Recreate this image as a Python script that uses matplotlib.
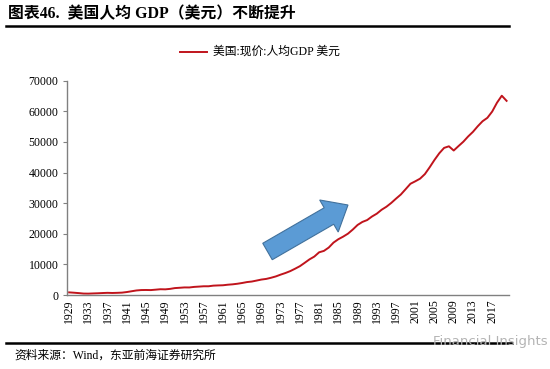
import matplotlib.pyplot as plt
from matplotlib.patches import Polygon
from matplotlib.lines import Line2D
import numpy as np

plt.rcParams['font.family'] = ['Liberation Serif', 'Noto Sans CJK SC', 'DejaVu Sans']

years = list(range(1929, 2021))
gdp_per_capita = [
    857, 747, 620, 469, 447, 512, 566, 645, 707, 660,
    708, 773, 965, 1225, 1483, 1614, 1638, 1606, 1740, 1884,
    1847, 1998, 2258, 2361, 2474, 2461, 2644, 2744, 2852, 2853,
    3056, 3126, 3179, 3359, 3485, 3674, 3924, 4222, 4397, 4716,
    5044, 5254, 5628, 6069, 6655, 7185, 7805, 8582, 9413, 10509,
    11640, 12547, 13944, 14406, 15491, 17120, 18219, 19062, 20032, 21371,
    22871, 23864, 24485, 25639, 26564, 27844, 28829, 30063, 31476, 32821,
    34566, 36335, 37134, 37998, 39490, 41725, 44123, 46302, 48050, 48570,
    47195, 48651, 50066, 51784, 53291, 55124, 56763, 57867, 59915, 62805,
    65095, 63416,
]
series_name = "美国:现价:人均GDP 美元"
title = "图表46.  美国人均 GDP（美元）不断提升"
source = "资料来源：Wind，东亚前海证券研究所"
y_ticks = [0, 10000, 20000, 30000, 40000, 50000, 60000, 70000]

W, H = 550, 369
fig = plt.figure(figsize=(W / 100, H / 100), dpi=100)
ax = fig.add_axes([66.7 / W, 1 - 295 / H, (509 - 66.7) / W, (295 - 80.7) / H])

x = np.arange(len(years))
ax.plot(x, gdp_per_capita, color="#C0141C", lw=1.4)

ax.set_xlim(-0.5, len(years) - 0.5)
ax.set_ylim(0, 70000)
ax.set_yticks(y_ticks)
ax.set_yticklabels([str(v) for v in y_ticks], fontsize=8.5)
tick_idx = list(range(0, len(years), 4))
ax.set_xticks(tick_idx)
ax.set_xticklabels([str(years[i]) for i in tick_idx], rotation=90, fontsize=8.5)
ax.tick_params(axis="x", length=0, pad=3)
ax.tick_params(axis="y", length=3, color="#808080", pad=3)
for s in ["top", "right"]:
    ax.spines[s].set_visible(False)
for s in ["left", "bottom"]:
    ax.spines[s].set_color("#808080")
    ax.spines[s].set_linewidth(1.0)

# title and rules
fig.text(8 / W, 1 - 14 / H, title, fontsize=11.4, fontweight="bold", va="center", ha="left")
fig.add_artist(Line2D([6 / W, 509 / W], [1 - 26 / H, 1 - 26 / H], color="black", lw=1.8))
fig.add_artist(Line2D([6 / W, 512 / W], [1 - 343 / H, 1 - 343 / H], color="black", lw=1.8))
fig.text(14 / W, 1 - 356 / H, source, fontsize=8.5, va="center", ha="left")

# legend
fig.add_artist(Line2D([180 / W, 207 / W], [1 - 52 / H, 1 - 52 / H], color="#C0141C", lw=1.4))
fig.text(213 / W, 1 - 52 / H, series_name, fontsize=8.5, va="center", ha="left")

# watermark
fig.text(548 / W, 1 - 342 / H, "Financial Insights", fontsize=9.5, color="#B4B4B4",
         va="center", ha="right", family="DejaVu Sans")

# blue block arrow (pixel coords, y from top)
tail = np.array([267.5, 251.5])
tip = np.array([348.0, 205.0])
d = tip - tail
L = np.hypot(*d)
u = d / L
n = np.array([-u[1], u[0]])
shaft_w, head_w, head_l = 19.0, 37.0, 22.0
base = tip - u * head_l
pts = [tail + n * shaft_w / 2, base + n * shaft_w / 2, base + n * head_w / 2, tip,
       base - n * head_w / 2, base - n * shaft_w / 2, tail - n * shaft_w / 2]
pts = [(p[0] / W, 1 - p[1] / H) for p in pts]
fig.add_artist(Polygon(pts, closed=True, facecolor="#5B9BD5", edgecolor="#41719C",
                       lw=0.8, transform=fig.transFigure))

fig.savefig("out.png", dpi=100)
